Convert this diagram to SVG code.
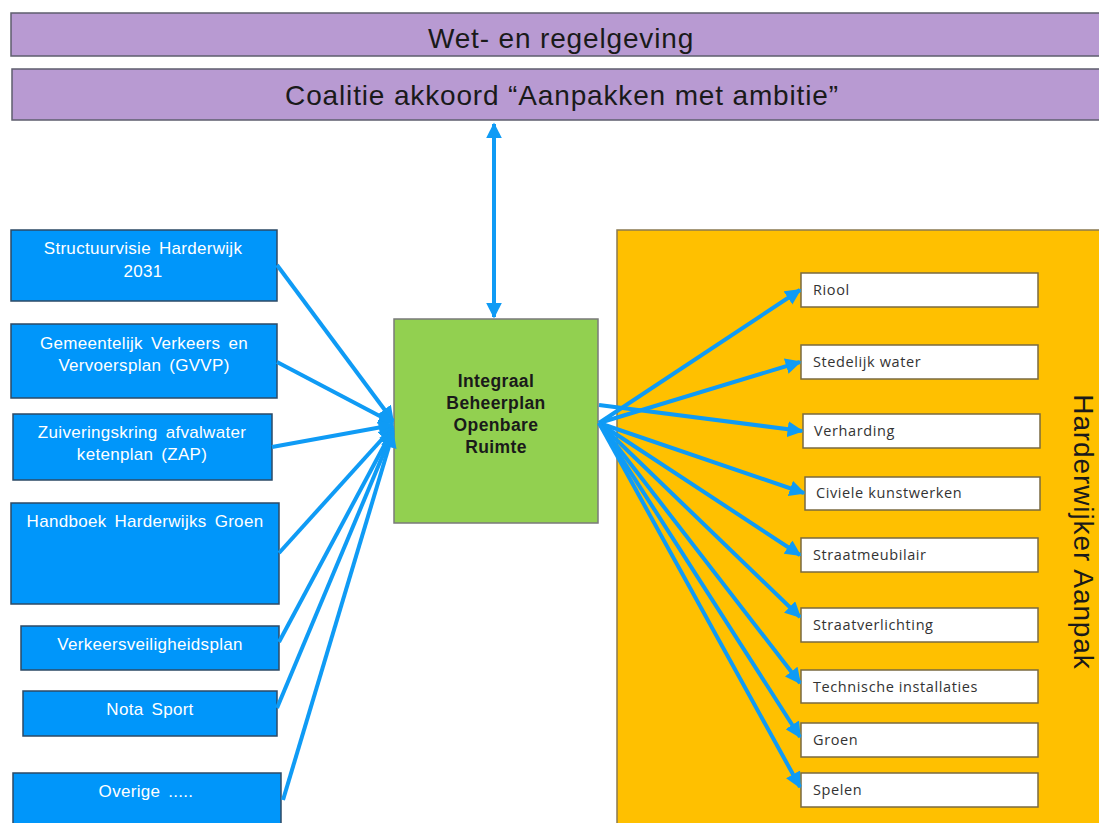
<svg xmlns="http://www.w3.org/2000/svg" width="1099" height="823" viewBox="0 0 1099 823">
<style>
.bar{fill:#B89AD2;stroke:#5E5E6E;stroke-width:1.5}
.bart{font-family:"Liberation Sans",Arial,sans-serif;font-size:28px;fill:#1A1A1A;text-anchor:middle;letter-spacing:0.85px}
.src{fill:#0096FA;stroke:#2C4A66;stroke-width:1.5}
.srct{font-family:"Liberation Sans",Arial,sans-serif;font-size:17px;fill:#FFFFFF;text-anchor:middle;word-spacing:3px;letter-spacing:0.3px}
.ctr{fill:#92D050;stroke:#7A7A7A;stroke-width:1.5}
.ctrt{font-family:"Liberation Sans",Arial,sans-serif;font-size:17.5px;font-weight:bold;fill:#1A1A1A;text-anchor:middle;letter-spacing:0.4px}
.tgt{fill:#FFFFFF;stroke:#7A6A40;stroke-width:1.5}
.tgtt{font-family:"Open Sans","Liberation Sans",sans-serif;font-size:14.5px;fill:#333333;letter-spacing:0.6px}
.con{stroke:#0F9BF5;stroke-width:4;fill:none}
</style>
<defs>
<marker id="ah" viewBox="0 0 10 10" refX="9" refY="5" markerWidth="4" markerHeight="4" markerUnits="strokeWidth" orient="auto-start-reverse">
<path d="M0,0 L10,5 L0,10 z" fill="#0F9BF5"/>
</marker>
</defs>
<rect width="1099" height="823" fill="#FFFFFF"/>
<g id="wet">
<rect class="bar" x="11" y="13" width="1095" height="43"/>
<text class="bart" x="561" y="48">Wet- en regelgeving</text>
</g>
<g id="coalitie">
<rect class="bar" x="12" y="69" width="1094" height="51"/>
<text class="bart" x="562" y="105">Coalitie akkoord “Aanpakken met ambitie”</text>
</g>
<g id="harderwijker-aanpak">
<rect x="617" y="230" width="490" height="600" fill="#FFC000" stroke="#8A7A50" stroke-width="1.5"/>
<text x="1074" y="532" transform="rotate(90 1074 532)" font-family="Liberation Sans,Arial,sans-serif" font-size="28" letter-spacing="0.9" fill="#1A1A1A" text-anchor="middle">Harderwijker Aanpak</text>
</g>
<g id="structuurvisie">
<rect class="src" x="11" y="230" width="266" height="71"/>
<text class="srct" x="143" y="254">Structuurvisie Harderwijk</text>
<text class="srct" x="143" y="277">2031</text>
</g>
<g id="gvvp">
<rect class="src" x="11" y="324" width="266" height="74"/>
<text class="srct" x="144" y="349">Gemeentelijk Verkeers en</text>
<text class="srct" x="144" y="371">Vervoersplan (GVVP)</text>
</g>
<g id="zap">
<rect class="src" x="13" y="414" width="259" height="66"/>
<text class="srct" x="142" y="438">Zuiveringskring afvalwater</text>
<text class="srct" x="142" y="460">ketenplan (ZAP)</text>
</g>
<g id="handboek">
<rect class="src" x="11" y="503" width="268" height="101"/>
<text class="srct" x="145" y="527">Handboek Harderwijks Groen</text>
</g>
<g id="verkeersveiligheidsplan">
<rect class="src" x="21" y="626" width="258" height="44"/>
<text class="srct" x="150" y="650">Verkeersveiligheidsplan</text>
</g>
<g id="nota-sport">
<rect class="src" x="23" y="691" width="254" height="45"/>
<text class="srct" x="150" y="715">Nota Sport</text>
</g>
<g id="overige">
<rect class="src" x="13" y="773" width="268" height="60"/>
<text class="srct" x="146" y="797">Overige .....</text>
</g>
<g id="ibor">
<rect class="ctr" x="394" y="319" width="204" height="204"/>
<text class="ctrt" x="496" y="387">Integraal</text>
<text class="ctrt" x="496" y="409">Beheerplan</text>
<text class="ctrt" x="496" y="431">Openbare</text>
<text class="ctrt" x="496" y="453">Ruimte</text>
</g>
<g id="riool"><rect class="tgt" x="801" y="273" width="237" height="34"/><text class="tgtt" x="813" y="295">Riool</text></g>
<g id="stedelijk-water"><rect class="tgt" x="801" y="345" width="237" height="34"/><text class="tgtt" x="813" y="367">Stedelijk water</text></g>
<g id="verharding"><rect class="tgt" x="803" y="414" width="237" height="34"/><text class="tgtt" x="814" y="436">Verharding</text></g>
<g id="civiele"><rect class="tgt" x="805" y="477" width="235" height="33"/><text class="tgtt" x="816" y="498">Civiele kunstwerken</text></g>
<g id="straatmeubilair"><rect class="tgt" x="801" y="538" width="237" height="34"/><text class="tgtt" x="813" y="560">Straatmeubilair</text></g>
<g id="straatverlichting"><rect class="tgt" x="801" y="608" width="237" height="34"/><text class="tgtt" x="813" y="630">Straatverlichting</text></g>
<g id="technische"><rect class="tgt" x="801" y="670" width="237" height="33"/><text class="tgtt" x="813" y="692">Technische installaties</text></g>
<g id="groen"><rect class="tgt" x="801" y="723" width="237" height="34"/><text class="tgtt" x="813" y="745">Groen</text></g>
<g id="spelen"><rect class="tgt" x="801" y="773" width="237" height="34"/><text class="tgtt" x="813" y="795">Spelen</text></g>
<g id="connectors">
<line class="con" x1="494" y1="124" x2="494" y2="317" marker-start="url(#ah)" marker-end="url(#ah)"/>
<line class="con" x1="277" y1="265" x2="393" y2="421" marker-end="url(#ah)"/>
<line class="con" x1="277" y1="362" x2="393" y2="423" marker-end="url(#ah)"/>
<line class="con" x1="272" y1="447" x2="393" y2="425" marker-end="url(#ah)"/>
<line class="con" x1="279" y1="553" x2="393" y2="427" marker-end="url(#ah)"/>
<line class="con" x1="279" y1="642" x2="393" y2="429" marker-end="url(#ah)"/>
<line class="con" x1="277" y1="708" x2="393" y2="431" marker-end="url(#ah)"/>
<line class="con" x1="283" y1="800" x2="393" y2="433" marker-end="url(#ah)"/>
<line class="con" x1="599" y1="423" x2="800" y2="290" marker-end="url(#ah)"/>
<line class="con" x1="599" y1="423" x2="800" y2="362" marker-end="url(#ah)"/>
<line class="con" x1="599" y1="405" x2="802" y2="431" marker-end="url(#ah)"/>
<line class="con" x1="599" y1="423" x2="804" y2="493" marker-end="url(#ah)"/>
<line class="con" x1="599" y1="423" x2="800" y2="555" marker-end="url(#ah)"/>
<line class="con" x1="599" y1="423" x2="800" y2="617" marker-end="url(#ah)"/>
<line class="con" x1="599" y1="423" x2="800" y2="683" marker-end="url(#ah)"/>
<line class="con" x1="599" y1="423" x2="800" y2="737" marker-end="url(#ah)"/>
<line class="con" x1="599" y1="423" x2="800" y2="787" marker-end="url(#ah)"/>
</g>
</svg>
